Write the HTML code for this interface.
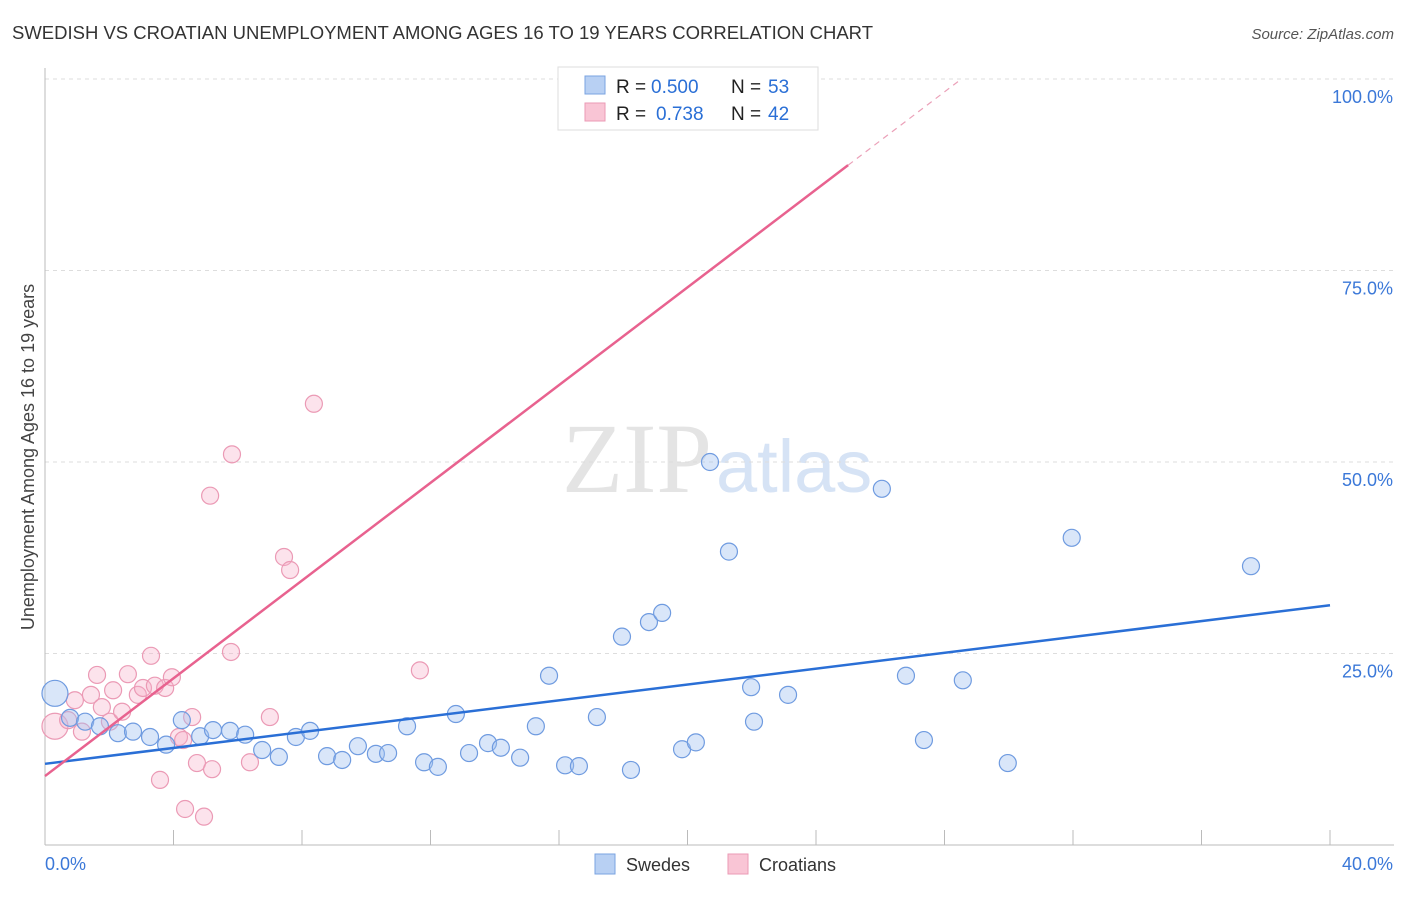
<!DOCTYPE html>
<html><head><meta charset="utf-8"><style>
body{margin:0;background:#fff;font-family:"Liberation Sans",sans-serif;}
</style></head><body>
<svg width="1406" height="892" xmlns="http://www.w3.org/2000/svg" font-family="Liberation Sans, sans-serif">
<text x="12" y="39" font-size="18.5" fill="#333" textLength="861">SWEDISH VS CROATIAN UNEMPLOYMENT AMONG AGES 16 TO 19 YEARS CORRELATION CHART</text>
<text x="1394" y="39" font-size="15" fill="#555" font-style="italic" text-anchor="end">Source: ZipAtlas.com</text>
<text x="712" y="492" font-size="100" fill="#e4e4e4" text-anchor="end" font-family="Liberation Serif, serif">ZIP</text>
<text x="716" y="492" font-size="74" fill="#d6e3f5">atlas</text>
<g id="grid"></g>
<g id="axes"></g>
<g id="marks"></g>
<text transform="translate(34,457) rotate(-90)" font-size="18" fill="#444" text-anchor="middle">Unemployment Among Ages 16 to 19 years</text>
<g>
<rect x="558" y="67" width="260" height="63" fill="#fff" stroke="#ddd"/>
<rect x="585" y="76" width="20" height="18" fill="#b8d0f3" stroke="#7aa3e0"/>
<rect x="585" y="103" width="20" height="18" fill="#f9c5d5" stroke="#eb9ab5"/>
<text x="616" y="93" font-size="19" fill="#222">R =</text>
<text x="651" y="93" font-size="19" fill="#2a6fd6">0.500</text>
<text x="731" y="93" font-size="19" fill="#222">N =</text>
<text x="768" y="93" font-size="19" fill="#2a6fd6">53</text>
<text x="616" y="120" font-size="19" fill="#222">R =</text>
<text x="656" y="120" font-size="19" fill="#2a6fd6">0.738</text>
<text x="731" y="120" font-size="19" fill="#222">N =</text>
<text x="768" y="120" font-size="19" fill="#2a6fd6">42</text>
</g>
<g>
<rect x="595" y="854" width="20" height="20" fill="#b8d0f3" stroke="#7aa3e0"/>
<text x="626" y="871" font-size="18" fill="#333">Swedes</text>
<rect x="728" y="854" width="20" height="20" fill="#f9c5d5" stroke="#eb9ab5"/>
<text x="759" y="871" font-size="18" fill="#333">Croatians</text>
</g>
</svg>
<script>
const yTicks=[25,50,75,100];
const yTickLabels=["25.0%","50.0%","75.0%","100.0%"];
const xTickCount=10;
const xLabels=["0.0%","40.0%"];
const swedesX=[0.31,0.78,1.25,1.71,2.27,2.74,3.27,3.77,4.26,4.83,5.23,5.76,6.23,6.76,7.28,7.81,8.25,8.78,9.25,9.74,10.30,10.68,11.27,11.80,12.23,12.79,13.20,13.79,14.19,14.79,15.28,15.69,16.19,16.62,17.18,17.96,18.24,18.80,19.21,19.83,20.26,20.70,21.29,21.98,22.07,23.13,26.05,26.80,27.36,28.57,29.97,31.96,37.54];
const swedesY=[19.8,16.6,16.1,15.5,14.6,14.8,14.1,13.1,16.3,14.2,15.0,14.9,14.4,12.4,11.5,14.1,14.9,11.6,11.1,12.9,11.9,12.0,15.5,10.8,10.2,17.1,12.0,13.3,12.7,11.4,15.5,22.1,10.4,10.3,16.7,27.2,9.8,29.1,30.3,12.5,13.4,50.0,38.3,20.6,16.1,19.6,46.5,22.1,13.7,21.5,10.7,40.1,36.4];
const croatX=[0.31,0.72,0.93,1.15,1.43,1.62,1.77,2.02,2.12,2.40,2.58,2.89,3.05,3.30,3.42,3.58,3.74,3.95,4.17,4.30,4.36,4.58,4.73,4.95,5.14,5.20,5.82,5.79,6.38,7.00,7.44,7.63,8.37,11.67,22.51];
const croatY=[15.5,16.3,18.9,14.8,19.6,22.2,18.0,16.1,20.2,17.4,22.3,19.6,20.5,24.7,20.8,8.5,20.5,21.9,14.1,13.7,4.7,16.7,10.7,3.7,45.6,9.9,51.0,25.2,10.8,16.7,37.6,35.9,57.6,22.8,99.9];
const swedesTrend=[10.6,31.3];
const croatTrend=[9.0,3.19];
const NS="http://www.w3.org/2000/svg";
const sx=v=>45+v/40*1285, sy=v=>845-v/100*766;
function mk(t,a,p){const e=document.createElementNS(NS,t);for(const k in a)e.setAttribute(k,a[k]);p.appendChild(e);return e;}
const grid=document.getElementById('grid'),axes=document.getElementById('axes'),marks=document.getElementById('marks');
yTicks.forEach((t,i)=>{
 const l=mk('line',{x1:45,x2:1394,y1:sy(t),y2:sy(t),stroke:'#ddd','stroke-dasharray':'4,4'},grid);
 
 
 const tx=mk('text',{x:1393,y:sy(t)+24,'font-size':18,fill:'#3b78d8','text-anchor':'end'},axes);
 tx.textContent=yTickLabels[i];
 
 
});
mk('line',{x1:45,x2:45,y1:68,y2:845,stroke:'#bbb'},axes);
mk('line',{x1:45,x2:1394,y1:845,y2:845,stroke:'#bbb'},axes);
for(let i=1;i<=xTickCount;i++){const x=sx(i*40/xTickCount);const t=mk('line',{x1:x,x2:x,y1:830,y2:845,stroke:'#bbb'},axes);
 
 }
const xl0=mk('text',{x:45,y:870,'font-size':18,fill:'#3b78d8'},axes);xl0.textContent=xLabels[0];


const xl1=mk('text',{x:1393,y:870,'font-size':18,fill:'#3b78d8','text-anchor':'end'},axes);xl1.textContent=xLabels[1];


croatX.forEach((x,i)=>{const c=mk('circle',{cx:sx(x),cy:sy(croatY[i]),r:i==0?13:8.5,fill:'rgba(246,175,200,0.35)',stroke:'#eb9ab5','stroke-width':1.2},marks);
 
 });
swedesX.forEach((x,i)=>{const c=mk('circle',{cx:sx(x),cy:sy(swedesY[i]),r:i==0?13:8.5,fill:'rgba(160,192,240,0.4)',stroke:'#6f9be0','stroke-width':1.2},marks);
 
 });
const bl=mk('line',{x1:sx(0),y1:sy(swedesTrend[0]),x2:sx(40),y2:sy(swedesTrend[1]),stroke:'#2a6fd6','stroke-width':2.5},marks);


const xe=25, xd=(100-croatTrend[0])/croatTrend[1];
const pl=mk('line',{x1:sx(0),y1:sy(croatTrend[0]),x2:sx(xe),y2:sy(croatTrend[0]+croatTrend[1]*xe),stroke:'#e8628f','stroke-width':2.5},marks);


const pd=mk('line',{x1:sx(xe),y1:sy(croatTrend[0]+croatTrend[1]*xe),x2:sx(xd),y2:sy(100),stroke:'#eba0b8','stroke-width':1.2,'stroke-dasharray':'6,5'},marks);


</script>
</body></html>
